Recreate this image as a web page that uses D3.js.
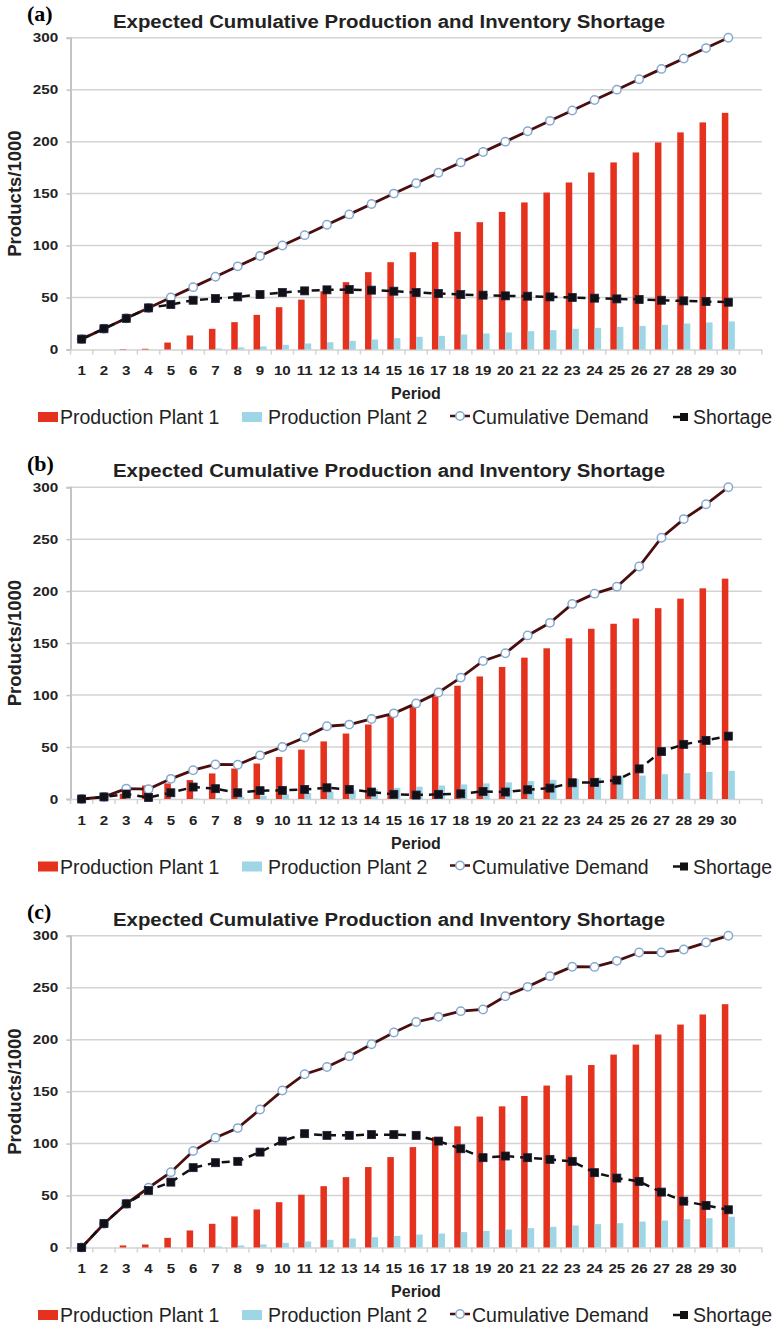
<!DOCTYPE html>
<html lang="en">
<head>
<meta charset="UTF-8" />
<script src="https://cdnjs.cloudflare.com/ajax/libs/d3/7.8.5/d3.min.js"></script>
<title>Expected Cumulative Production and Inventory Shortage</title>
<style>
  body { margin: 0; background: #fff; }
  text { font-family: "Liberation Sans", Arial, sans-serif; }
</style>
</head>
<body>
<div class="chart"></div>
<script>
// data
const periods = [1,2,3,4,5,6,7,8,9,10,11,12,13,14,15,16,17,18,19,20,21,22,23,24,25,26,27,28,29,30]
const yTicks = [0, 50, 100, 150, 200, 250, 300]

const plant1A = [0,0,0.4,0.7,6.7,13.5,19.9,26.3,33.3,40.7,48,56,64.8,74.4,84,93.6,103.3,113.2,122.5,132.4,141.5,151,160.7,170.3,180,189.6,199.2,208.9,218.5,227.7]
const plant2A = [0,0,0,0,0.2,0.4,1,2,3,4.5,5.8,7,8.3,9.6,10.9,12.2,13.1,14.4,15.4,16.4,17.6,18.6,19.9,20.8,21.8,22.7,23.7,25,26,27]
const demandA = [10,20,30,40,50,60,70,80,90,100,110,120,130,140,150,160,170,180,190,200,210,220,230,240,250,260,270,280,290,300]
const shortageA = [10,20,30,40,43.3,47.4,49,50.6,52.9,54.8,56.4,57.4,57.7,57.1,56.1,54.8,53.9,52.9,52.3,51.6,51.3,50.6,50,49.4,48.7,48.1,47.4,46.8,46.2,45.5]

const plant1B = [0,0,5,13,15,18.2,24.6,29.3,34.1,40.4,47.5,55.4,63,71.7,80,89.2,98.8,109,117.9,127,136,145,154.6,163.8,168.6,173.7,183.6,192.8,202.7,212]
const plant2B = [0,0,0,0,0.2,0.4,1,2,3,4.5,5.8,7,8.3,9.6,10.8,11.8,13,14,15,16,17.2,18.5,19.5,20.5,21.5,22.6,23.9,24.9,26.1,27.1]
const demandB = [0,2,10,9.5,19.4,27.7,33.2,33,42,50,59.2,70,71.6,77,82.4,92,102.5,116.8,132.8,140.2,157.4,169.5,187.7,197.6,204.3,223.7,251.4,269.3,283.6,300]
const shortageB = [0,2,4.8,1.5,6,11.5,9.9,6,8,8.3,9.2,10.8,9.2,6.7,4.5,3.8,4.5,5,7.3,6.7,8.9,10.5,15.6,16,18.2,29,45.6,52.6,56.4,60.5]

const plant1C = [0,0,2,2.9,9.3,16.4,22.8,29.9,36.6,43.6,50.8,59,67.7,77.4,87,96.6,106.3,116.6,126,135.8,145.8,155.8,165.7,175.6,185.6,195.2,204.9,214.5,224.2,234.1]
const plant2C = [0,0,0,0,0.2,0.4,1,2,3,4.5,5.8,7.4,8.7,9.9,11.2,12.5,13.5,14.8,16,17.3,18.6,19.9,21.2,22.5,23.4,25,26,27.3,28.2,29.6]
const demandC = [0,22.8,42.1,57.5,72.5,92.8,105.7,114.9,132.8,151,166.7,173.7,184,195.5,206.8,217,221.9,227.4,229,241.8,250.8,261.1,270.1,270,275.8,283.8,283.8,286.7,293.4,300]
const shortageC = [0,23,42,54.9,62.9,76.8,81.6,82.9,91.8,102.4,109.5,107.9,107.9,108.6,108.6,107.9,102.4,95,86.4,88,86.4,84.8,82.9,72,66.8,63.6,53.3,44.6,40.5,36.3]

const panels = [
  { label: '(a)', dy: 0, p1: plant1A, p2: plant2A, demand: demandA, shortage: shortageA },
  { label: '(b)', dy: 449.5, p1: plant1B, p2: plant2B, demand: demandB, shortage: shortageB },
  { label: '(c)', dy: 898, p1: plant1C, p2: plant2C, demand: demandC, shortage: shortageC }
]

const title = 'Expected Cumulative Production and Inventory Shortage'
const red = '#e4321f'
const blue = '#9ed6e6'
const grid = '#d3d3d3'

const svg = d3.select('.chart').append('svg').attr('width', 777).attr('height', 1328)

// 31 slots, the last one is empty (as in the original spreadsheet chart)
const slots = periods.map(String).concat(['blank'])
const x = d3.scaleBand().domain(slots).range([70.5, 761.8])
const x1 = d3.scaleBand().domain(['p1', 'p2']).range([0, x.bandwidth()]).paddingOuter(0.71)
const y = d3.scaleLinear().domain([0, 300]).range([349.5, 37.7])

const demandLine = d3.line().x((d, i) => x(String(periods[i])) + x.bandwidth() / 2).y(d => y(d))

panels.forEach(p => {
  const g = svg.append('g').attr('transform', `translate(0, ${p.dy})`)

  g.append('text')
    .attr('x', 27).attr('y', 21)
    .style('font-family', '"Liberation Serif", "Times New Roman", serif')
    .style('font-weight', 'bold').style('font-size', '22px')
    .text(p.label)

  g.append('text')
    .attr('x', 113).attr('y', 27.5)
    .attr('textLength', 552).attr('lengthAdjust', 'spacingAndGlyphs')
    .style('font-weight', 'bold').style('font-size', '18px').style('fill', '#222')
    .text(title)

  // gridlines
  g.append('g').selectAll('line').data(yTicks.filter(t => t > 0)).join('line')
    .attr('x1', 70.5).attr('x2', 761.8)
    .attr('y1', d => y(d)).attr('y2', d => y(d))
    .attr('stroke', grid).attr('stroke-width', 1.5)

  // y axis
  const yAxis = g.append('g').attr('transform', 'translate(70.5,0)')
    .call(d3.axisLeft(y).tickValues(yTicks).tickSize(4).tickPadding(6))
  yAxis.select('.domain').attr('stroke', '#c4c4c4').attr('stroke-width', 2)
  yAxis.selectAll('.tick line').attr('stroke', '#c4c4c4').attr('stroke-width', 1.5)
  yAxis.selectAll('text')
    .attr('transform', 'scale(1.22,1)')
    .style('font-size', '12.5px').style('font-weight', 'bold').style('fill', '#222')
    .style('font-family', '"Liberation Sans", Arial, sans-serif')

  // x axis
  const xAxis = g.append('g').attr('transform', `translate(0, ${y(0)})`)
    .call(d3.axisBottom(x).tickValues(periods.map(String)).tickSize(0).tickPadding(16))
  xAxis.select('.domain').attr('stroke', grid).attr('stroke-width', 1.5)
  xAxis.selectAll('text')
    .attr('transform', 'scale(1.12,1)')
    .style('font-size', '13.5px').style('font-weight', 'bold').style('fill', '#222')
    .style('font-family', '"Liberation Sans", Arial, sans-serif')
  g.append('g').selectAll('line').data(slots.map(s => x(s)).concat([x.range()[1]])).join('line')
    .attr('x1', d => d).attr('x2', d => d)
    .attr('y1', y(0)).attr('y2', y(0) + 5)
    .attr('stroke', grid).attr('stroke-width', 1.5)

  g.append('text')
    .attr('x', 416).attr('y', 399)
    .attr('text-anchor', 'middle')
    .style('font-weight', 'bold').style('font-size', '16px').style('fill', '#222')
    .text('Period')

  g.append('text')
    .attr('transform', `translate(20.5, ${(y(0) + y(300)) / 2}) rotate(-90)`)
    .attr('text-anchor', 'middle')
    .style('font-weight', 'bold').style('font-size', '18.5px').style('fill', '#222')
    .text('Products/1000')

  // bars
  const rows = periods.map((d, i) => ({ period: String(d), p1: p.p1[i], p2: p.p2[i] }))
  const groups = g.append('g').selectAll('g').data(rows).join('g')
    .attr('transform', d => `translate(${x(d.period)},0)`)
  groups.append('rect')
    .attr('x', x1('p1')).attr('width', x1.bandwidth())
    .attr('y', d => y(d.p1)).attr('height', d => y(0) - y(d.p1))
    .attr('fill', red)
  groups.append('rect')
    .attr('x', x1('p2')).attr('width', x1.bandwidth())
    .attr('y', d => y(d.p2)).attr('height', d => y(0) - y(d.p2))
    .attr('fill', blue)

  // cumulative demand
  g.append('path').datum(p.demand)
    .attr('d', demandLine)
    .attr('fill', 'none').attr('stroke', '#4a0e0e').attr('stroke-width', 2.8)
  g.append('g').selectAll('circle').data(p.demand).join('circle')
    .attr('cx', (d, i) => x(String(periods[i])) + x.bandwidth() / 2)
    .attr('cy', d => y(d))
    .attr('r', 4.2)
    .attr('fill', '#fff').attr('stroke', '#86a9d2').attr('stroke-width', 1.5)

  // shortage
  g.append('path').datum(p.shortage)
    .attr('d', demandLine)
    .attr('fill', 'none').attr('stroke', '#111').attr('stroke-width', 2.5)
    .attr('stroke-dasharray', '8,6')
  g.append('g').selectAll('rect').data(p.shortage).join('rect')
    .attr('x', (d, i) => x(String(periods[i])) + x.bandwidth() / 2 - 4)
    .attr('y', d => y(d) - 4)
    .attr('width', 8).attr('height', 8)
    .attr('fill', '#111').attr('stroke', '#1c1c44').attr('stroke-width', 0.8)

  // legend
  const lg = g.append('g').style('font-size', '19.5px').style('fill', '#222')
  lg.append('rect').attr('x', 38).attr('y', 412).attr('width', 20).attr('height', 10).attr('fill', red)
  lg.append('text').attr('x', 60).attr('y', 424).text('Production Plant 1')
  lg.append('rect').attr('x', 242).attr('y', 412).attr('width', 20).attr('height', 10).attr('fill', blue)
  lg.append('text').attr('x', 268).attr('y', 424).text('Production Plant 2')
  lg.append('line').attr('x1', 450).attr('x2', 470).attr('y1', 416).attr('y2', 416)
    .attr('stroke', '#4a0e0e').attr('stroke-width', 2.5)
  lg.append('circle').attr('cx', 460).attr('cy', 416).attr('r', 4.2)
    .attr('fill', '#fff').attr('stroke', '#86a9d2').attr('stroke-width', 1.5)
  lg.append('text').attr('x', 472).attr('y', 424).text('Cumulative Demand')
  lg.append('line').attr('x1', 673).attr('x2', 680).attr('y1', 417).attr('y2', 417)
    .attr('stroke', '#111').attr('stroke-width', 2.5)
  lg.append('rect').attr('x', 680).attr('y', 413).attr('width', 8).attr('height', 8).attr('fill', '#111')
  lg.append('text').attr('x', 693).attr('y', 424).text('Shortage')
})
</script>
</body>
</html>
